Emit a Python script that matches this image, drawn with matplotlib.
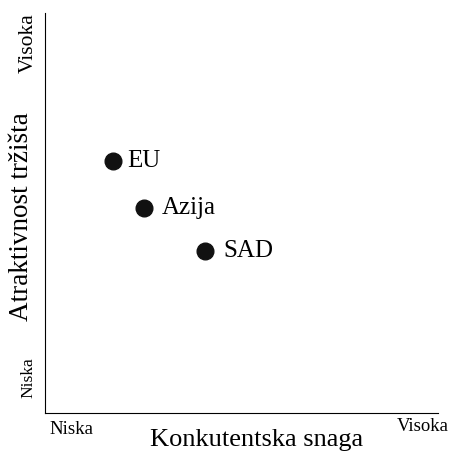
import matplotlib.pyplot as plt

plt.rcParams['font.family'] = ['Liberation Serif', 'DejaVu Serif']

regije = ['EU', 'Azija', 'SAD']
snaga = [1.73, 2.52, 4.07]
atraktivnost = [6.3, 5.13, 4.05]
pomak = [10, 13, 13]

W, H = 456, 453
fig = plt.figure(figsize=(W / 100, H / 100), dpi=100)
ax = fig.add_axes([45/W, 40/H, 393/W, 400/H])

ax.plot(snaga, atraktivnost, 'o', color='#111111', markersize=12)
for x, y, t, p in zip(snaga, atraktivnost, regije, pomak):
    ax.annotate(t, (x, y), xytext=(p, 0), textcoords='offset points',
                va='center', ha='left', fontsize=18)

ax.set_xlim(0, 10)
ax.set_ylim(0, 10)
ax.spines['top'].set_visible(False)
ax.spines['right'].set_visible(False)
ax.set_xticks([])
ax.set_yticks([])


def px(x, y, s, **kw):
    fig.text(x / W, 1 - y / H, s, **kw)


# oznake krajeva osi
px(71.5, 421, 'Niska', ha='center', va='top', fontsize=13.7)
px(423, 418, 'Visoka', ha='center', va='top', fontsize=13.5)
px(28, 377.5, 'Niska', ha='center', va='center', rotation=90, fontsize=12.6)
px(28, 43.5, 'Visoka', ha='center', va='center', rotation=90, fontsize=15.5)

# nazivi osi
px(256.5, 446, 'Konkutentska snaga', ha='center', va='baseline', fontsize=19)
px(21.5, 216.5, 'Atraktivnost tržišta', ha='center', va='center', rotation=90, fontsize=19.5)

fig.savefig('out.png', dpi=100)
